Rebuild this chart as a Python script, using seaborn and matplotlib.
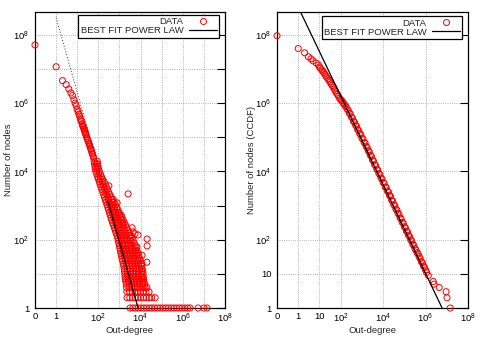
import numpy as np
import pandas as pd
import seaborn as sns
import matplotlib
matplotlib.use("Agg")
import matplotlib.pyplot as plt
from matplotlib.lines import Line2D
from matplotlib.ticker import FixedLocator, FixedFormatter, NullLocator

# ─── Left panel: out-degree distribution ──────────────────────────────────────
# degree 0 is drawn one decade left of 1 (labelled "0"), as in the original plot
ZERO_POS = 0.1

head_degree = [0, 1, 2, 3, 4, 5, 6, 7, 8, 9, 10, 11, 12, 13, 14, 15, 16, 17, 18, 19, 20, 21, 22,
               23, 24, 25, 26, 28, 30, 32, 34, 36, 38, 40, 43, 45, 48, 51, 54, 57, 60]
head_count = [5.1e7, 1.17e7, 4.6e6, 3.5e6, 2.6e6, 2.0e6, 1.66e6, 1.26e6, 1.0e6, 8.3e5, 6.6e5,
              5.6e5, 4.8e5, 4.2e5, 3.5e5, 3.2e5, 2.9e5, 2.5e5, 2.2e5, 2.1e5, 1.9e5, 1.74e5,
              1.62e5, 1.5e5, 1.38e5, 1.26e5, 1.2e5, 1.02e5, 9.1e4, 8.1e4, 7.4e4, 6.6e4, 6.0e4,
              5.5e4, 4.8e4, 4.4e4, 3.9e4, 3.4e4, 3.2e4, 2.75e4, 2.5e4]

# node counts of the noisy tail and the degrees observed at each count
band_count = [20000, 16800, 14000, 12000, 10000, 8400, 7000, 6000, 5000, 4200, 3550, 3000, 2500,
              2100, 1780, 1500, 1260, 1060, 890, 750, 630, 530, 450, 380, 316, 270, 224, 190, 158,
              133, 112, 94, 79, 67, 56, 47, 40, 34, 28, 24, 20, 17, 14, 12, 10, 8, 7, 6, 5, 4, 3,
              2, 1]
band_degree = [
    [63, 89],
    [66, 80, 92],
    [69, 95],
    [72, 86, 102],
    [76, 112],
    [84, 105, 126],
    [93, 141],
    [100, 125, 158],
    [112, 151, 191],
    [120, 162, 214],
    [132, 178, 240],
    [145, 200, 270],
    [162, 224, 302],
    [178, 250, 350],
    [195, 282, 398],
    [214, 300, 420, 510],
    [234, 331, 457, 562],
    [257, 360, 500, 650],
    [282, 398, 562, 741],
    [305, 430, 610, 850],
    [331, 468, 661, 955],
    [365, 510, 720, 1020, 1200],
    [398, 562, 794, 1120, 1320],
    [430, 610, 860, 1220, 1500],
    [468, 661, 933, 1320, 1700],
    [520, 720, 1020, 1450, 1950],
    [575, 794, 1120, 1585, 2240],
    [630, 870, 1230, 1740, 2500],
    [692, 955, 1350, 1900, 2820],
    [760, 1050, 1470, 2070, 2980, 3600],
    [832, 1150, 1585, 2240, 3160, 3980],
    [880, 1220, 1680, 2370, 3350, 4500],
    [933, 1290, 1780, 2510, 3550, 5010],
    [990, 1370, 1890, 2660, 3760, 5500],
    [1050, 1445, 2000, 2820, 3980, 6030],
    [1110, 1530, 2120, 2990, 4230, 5800, 6900],
    [1175, 1620, 2240, 3160, 4470, 6310, 7590],
    [1250, 1720, 2380, 3350, 4740, 6700, 8300],
    [1320, 1820, 2510, 3550, 5010, 7080, 9120],
    [1420, 1950, 2700, 3770, 5320, 7500, 9900],
    [1510, 2090, 2880, 3980, 5620, 7940, 10700],
    [1600, 2200, 3020, 4220, 5960, 8400, 11300],
    [1700, 2340, 3160, 4470, 6310, 8910, 12000],
    [1740, 2370, 3200, 4420, 6100, 8400, 11300, 12700],
    [1780, 2400, 3240, 4370, 5890, 7940, 10700, 13200],
    [1860, 2510, 3390, 4570, 6170, 8320, 11200, 13500],
    [1930, 2600, 3500, 4730, 6390, 8600, 11600, 13800],
    [2000, 2690, 3630, 4900, 6610, 8910, 12000, 14100],
    [2090, 2820, 3800, 5130, 6920, 9330, 12600, 15800],
    [2140, 2880, 3890, 5250, 7080, 9550, 12900, 16600, 20000],
    [2240, 3020, 4070, 5500, 7410, 10000, 13500, 18200, 25100],
    [2290, 3090, 4170, 5620, 7590, 10200, 13800, 18600, 25100, 33900, 49000],
    [3160, 4270, 5750, 7760, 10500, 14100, 19100, 25700, 34700, 46800, 63100, 85100, 115000,
     155000, 209000, 282000, 380000, 513000, 692000, 933000, 1260000, 1700000, 2240000,
     5370000, 10000000, 14100000],
]

outlier_degree = [316, 2570, 776, 850, 1480, 3980, 4370, 5500, 7590, 20400, 20400, 6760, 5500, 11750, 20000, 11750]
outlier_count = [3800, 2200, 1200, 615, 310, 224, 170, 150, 138, 105, 66, 62, 50, 35, 22, 19]

# ─── Right panel: CCDF ────────────────────────────────────────────────────────
ccdf_degree = [0, 1, 2, 3, 4, 5, 7, 9, 10, 13, 16, 20, 25, 32, 40, 50, 63, 79, 100, 126, 158, 200,
               251, 316, 398, 501, 631, 794, 1000, 1260, 1580, 2000, 2510, 3160, 3980, 5010, 6310,
               7940, 10000, 12600, 15800, 20000, 25100, 31600, 39800, 50100, 63100, 79400, 100000,
               126000, 158000, 200000, 251000, 316000, 398000, 501000, 631000, 794000, 1000000,
               1120000, 1350000, 2300000, 2500000, 4400000, 9300000, 10200000, 14500000]
ccdf_count = [9.5e7, 4.0e7, 3.0e7, 2.3e7, 2.0e7, 1.74e7, 1.5e7, 1.32e7, 1.15e7, 9.5e6, 7.9e6, 6.3e6,
              5.2e6, 4.2e6, 3.3e6, 2.6e6, 2.0e6, 1.6e6, 1.26e6, 1.05e6, 8.5e5, 6.8e5, 5.2e5, 4.0e5,
              3.0e5, 2.3e5, 1.7e5, 1.29e5, 9.5e4, 7.2e4, 5.5e4, 4.1e4, 3.0e4, 2.2e4, 1.58e4, 1.17e4,
              8.7e3, 6.5e3, 4.8e3, 3.5e3, 2.7e3, 2.0e3, 1.45e3, 1.07e3, 794, 603, 437, 324, 240, 178,
              135, 100, 74, 55, 42, 32, 23, 17, 13, 11, 9, 6, 5, 4, 3, 2, 1]
# upper edge of the thick CCDF band
ccdf_edge_degree = [11, 14, 18, 22, 28, 35, 45, 56, 71, 89, 112, 141, 178, 224, 282, 355, 447, 562,
                    708, 891, 1120, 1410, 1780, 2240, 2820, 3550, 4470, 5620, 7080, 8910, 11200,
                    14100, 17800, 22400, 28200, 35500, 44700, 56200, 70800, 89100, 112000, 141000,
                    178000, 224000, 282000, 355000, 447000, 562000, 708000, 891000]
ccdf_edge_count = [1.05e7, 8.7e6, 7.1e6, 5.8e6, 4.7e6, 3.7e6, 3.0e6, 2.3e6, 1.8e6, 1.4e6, 1.2e6,
                   9.8e5, 7.9e5, 6.3e5, 4.9e5, 3.7e5, 2.8e5, 2.1e5, 1.58e5, 1.2e5, 8.9e4, 6.8e4,
                   5.0e4, 3.7e4, 2.75e4, 2.0e4, 1.48e4, 1.1e4, 8.1e3, 6.0e3, 4.5e3, 3.4e3, 2.5e3,
                   1.86e3, 1.35e3, 1.0e3, 741, 550, 407, 302, 224, 166, 123, 91, 68, 50, 38, 28, 21,
                   15.5]

# ─── Power-law fits: count = c * degree^-alpha ────────────────────────────────
left_fit_c = 3.2e8
left_fit_alpha = 2.19
left_fit_xmin = 290
right_fit_c = 6.5e8
right_fit_alpha = 1.30

# ─── Axis ticks ───────────────────────────────────────────────────────────────
left_xticks = [0.1, 1, 10, 1e2, 1e3, 1e4, 1e5, 1e6, 1e7, 1e8]
left_xticklabels = ["0", "1", "", "$10^{2}$", "", "$10^{4}$", "", "$10^{6}$", "", "$10^{8}$"]
left_yticks = [1, 10, 1e2, 1e3, 1e4, 1e5, 1e6, 1e7, 1e8]
left_yticklabels = ["1", "", "$10^{2}$", "", "$10^{4}$", "", "$10^{6}$", "", "$10^{8}$"]
right_xticks = [0.1, 1, 10, 1e2, 1e4, 1e6, 1e8]
right_xticklabels = ["0", "1", "10", "$10^{2}$", "$10^{4}$", "$10^{6}$", "$10^{8}$"]
right_yticks = [1, 10, 1e2, 1e4, 1e6, 1e8]
right_yticklabels = ["1", "10", "$10^{2}$", "$10^{4}$", "$10^{6}$", "$10^{8}$"]

# ─── Style ────────────────────────────────────────────────────────────────────
sns.set_style("white")
plt.rcParams["font.family"] = ["Liberation Sans", "DejaVu Sans"]
plt.rcParams["mathtext.fontset"] = "custom"
plt.rcParams["mathtext.rm"] = "Liberation Sans"
plt.rcParams["mathtext.it"] = "Liberation Sans:italic"
plt.rcParams["mathtext.bf"] = "Liberation Sans:bold"
FS = 6.8

fig = plt.figure(figsize=(4.85, 3.39), dpi=100)
ax_l = fig.add_axes([35 / 485, 31 / 339, 190 / 485, 296 / 339])
ax_r = fig.add_axes([277 / 485, 31 / 339, 191 / 485, 296 / 339])

scatter_kw = dict(marker="o", s=19, facecolor="none", edgecolor="red", linewidth=0.7,
                  clip_on=False, zorder=3, legend=False)


def setup_axis(ax, xt, xtl, yt, ytl, ylabel, ylabel_x):
    ax.set_xlim(0.1, 1e8)
    ax.set_ylim(1, 4.7e8)
    ax.xaxis.set_major_locator(FixedLocator(xt))
    ax.xaxis.set_major_formatter(FixedFormatter(xtl))
    ax.yaxis.set_major_locator(FixedLocator(yt))
    ax.yaxis.set_major_formatter(FixedFormatter(ytl))
    ax.xaxis.set_minor_locator(NullLocator())
    ax.yaxis.set_minor_locator(NullLocator())
    ax.tick_params(direction="in", length=5.5, width=0.8, labelsize=FS, colors="black",
                   right=True, top=False)
    ax.tick_params(axis="x", pad=3)
    ax.tick_params(axis="y", pad=4)
    ax.grid(True, which="major", linestyle=":", color="#9a9a9a", linewidth=0.6)
    ax.set_axisbelow(True)
    for sp in ax.spines.values():
        sp.set_color("black")
        sp.set_linewidth(0.9)
    ax.set_xlabel("Out-degree", fontsize=FS)
    ax.set_ylabel(ylabel, fontsize=FS)
    ax.xaxis.set_label_coords(0.5, -0.062)
    ax.yaxis.set_label_coords(ylabel_x, 0.5)


def add_legend(ax, anchor):
    handles = [
        Line2D([], [], marker="o", markersize=4.3, markerfacecolor="none",
               markeredgecolor="red", markeredgewidth=0.7, linestyle="none"),
        Line2D([], [], color="black", linewidth=0.9),
    ]
    leg = ax.legend(handles, ["DATA", "BEST FIT POWER LAW"], loc="upper right",
                    bbox_to_anchor=anchor, borderaxespad=0, fontsize=FS, markerfirst=False,
                    handlelength=2.9, handletextpad=0.6, labelspacing=0.0, borderpad=0.25,
                    fancybox=False, framealpha=1, edgecolor="black")
    leg.get_frame().set_linewidth(0.9)
    leg.set_zorder(10)


# ─── Left: distribution ───────────────────────────────────────────────────────
band_x = [d for degs in band_degree for d in degs]
band_y = [c for c, degs in zip(band_count, band_degree) for _ in degs]
df_left = pd.DataFrame({
    "degree": head_degree + band_x + outlier_degree,
    "nodes": head_count + band_y + outlier_count,
})
df_left["x"] = df_left["degree"].replace(0, ZERO_POS)

ax_l.set_xscale("log")
ax_l.set_yscale("log")
sns.scatterplot(data=df_left, x="x", y="nodes", ax=ax_l, **scatter_kw)

x_end = left_fit_c ** (1 / left_fit_alpha)
x_dot = np.array([1, left_fit_xmin])
x_sol = np.array([left_fit_xmin, x_end])
sns.lineplot(x=x_dot, y=left_fit_c * x_dot ** -left_fit_alpha, ax=ax_l, color="#333333",
             linewidth=0.7, linestyle=(0, (1, 2)), errorbar=None, zorder=4)
sns.lineplot(x=x_sol, y=left_fit_c * x_sol ** -left_fit_alpha, ax=ax_l, color="black",
             linewidth=0.9, errorbar=None, zorder=4)
setup_axis(ax_l, left_xticks, left_xticklabels, left_yticks, left_yticklabels,
           "Number of nodes", -0.118)
add_legend(ax_l, (0.968, 0.99))

# ─── Right: CCDF ──────────────────────────────────────────────────────────────
df_right = pd.DataFrame({"degree": ccdf_degree + ccdf_edge_degree,
                         "nodes": ccdf_count + ccdf_edge_count})
df_right["x"] = df_right["degree"].replace(0, ZERO_POS)

ax_r.set_xscale("log")
ax_r.set_yscale("log")
sns.scatterplot(data=df_right, x="x", y="nodes", ax=ax_r, **scatter_kw)

x_fit = np.array([1, 1e7])
sns.lineplot(x=x_fit, y=right_fit_c * x_fit ** -right_fit_alpha, ax=ax_r, color="black",
             linewidth=0.9, errorbar=None, zorder=4)
setup_axis(ax_r, right_xticks, right_xticklabels, right_yticks, right_yticklabels,
           "Number of nodes (CCDF)", -0.112)
add_legend(ax_r, (0.969, 0.986))

fig.savefig("out.png", dpi=100)
